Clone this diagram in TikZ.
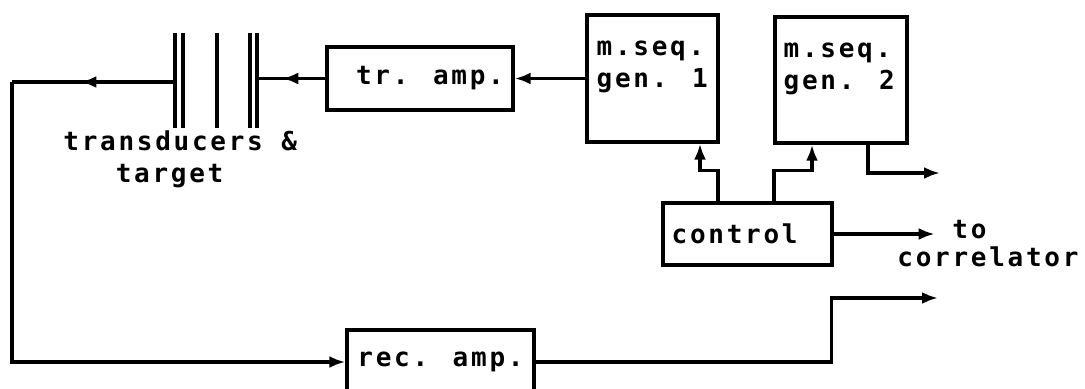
\documentclass[tikz,border=0pt]{standalone}
\usepackage{fontspec}
\newfontfamily\dotfont[LetterSpace=10.5]{DejaVu Sans Mono Bold}
\usetikzlibrary{positioning, arrows.meta, decorations.markings}

\tikzset{
  blk/.style={draw, line width=1.7pt, inner sep=0pt},
  lbl/.style={font={\dotfont\fontsize{13}{16}\selectfont}, inner sep=0pt, align=left},
  wire/.style={line width=1.7pt},
  tip/.style={-{Latex[length=8pt,width=6pt]}},
  midtip/.style={postaction={decorate}, decoration={markings,
      mark=at position #1 with {\arrow{Latex[length=8pt,width=6pt]}}}}
}

\begin{document}
\begin{tikzpicture}[x=0.5pt, y=-0.5pt]
  \useasboundingbox (0,0) rectangle (1085,389);

  % blocks
  \node[blk, minimum width=93pt, minimum height=31.5pt] (tramp) at (420,78.5) {};
  \node[lbl] (tramptxt) at ([xshift=5pt]tramp.center) {tr. amp.};
  \node[blk, minimum width=65.5pt, minimum height=63.5pt] (gen1) at (652.5,78.5) {};
  \node[lbl, anchor=north west] (gen1txt) at ([xshift=5.5pt, yshift=-13.5pt]gen1.north west) {m.seq.\\gen. 1};
  \node[blk, minimum width=66pt, minimum height=63pt] (gen2) at (841,80) {};
  \node[lbl, anchor=north west] (gen2txt) at ([xshift=5pt, yshift=-13.5pt]gen2.north west) {m.seq.\\gen. 2};
  \node[blk, minimum width=84.5pt, minimum height=31pt] (ctrl) at (747.5,234) {};
  \node[lbl, anchor=west] (ctrltxt) at ([xshift=5pt]ctrl.west) {control};
  \node[blk, minimum width=93.5pt, minimum height=32pt] (recamp) at (440.5,362) {};
  \node[lbl] (recamptxt) at (recamp.center) {rec. amp.};

  % transducer plates and target
  \foreach \x in {175,183,217,250,257}
    \draw[wire] (\x,33) -- (\x,128);
  \coordinate (tin) at (257,78.5);
  \coordinate (tout) at (175,82);
  \coordinate (lcorner) at (12,82);
  \node[lbl, anchor=north west] (tdlbl) at (63,130) {transducers \&\\\phantom{tra}target};

  % output labels
  \node[lbl, anchor=west] (tolbl) at (952,230) {to};
  \node[lbl, anchor=west] (corrlbl) at (897,257) {correlator};
  \coordinate (g2out) at (940,173);
  \coordinate (recout) at (938,298);

  % signal path
  \draw[wire, tip] (gen1.west) -- (tramp.east);
  \draw[wire, midtip=0.63] (tramp.west) -- (tin);
  \draw[wire, midtip=0.58] (tout) -- (lcorner);
  \draw[wire, tip] (lcorner) |- (recamp.west);
  \draw[wire, tip] (recamp.east) -- ++(296,0) |- (recout);

  % control lines
  \draw[wire, tip] ([xshift=-14.75pt]ctrl.north) -- ++(0,-31) -| ([xshift=23.75pt]gen1.south);
  \draw[wire, tip] ([xshift=13.25pt]ctrl.north) -- ++(0,-31) -| ([xshift=-14.5pt]gen2.south);
  \draw[wire, tip] ([xshift=13.5pt]gen2.south) |- (g2out);
  \draw[wire, tip] (ctrl.east) -- ++(101,0);
\end{tikzpicture}
\end{document}
